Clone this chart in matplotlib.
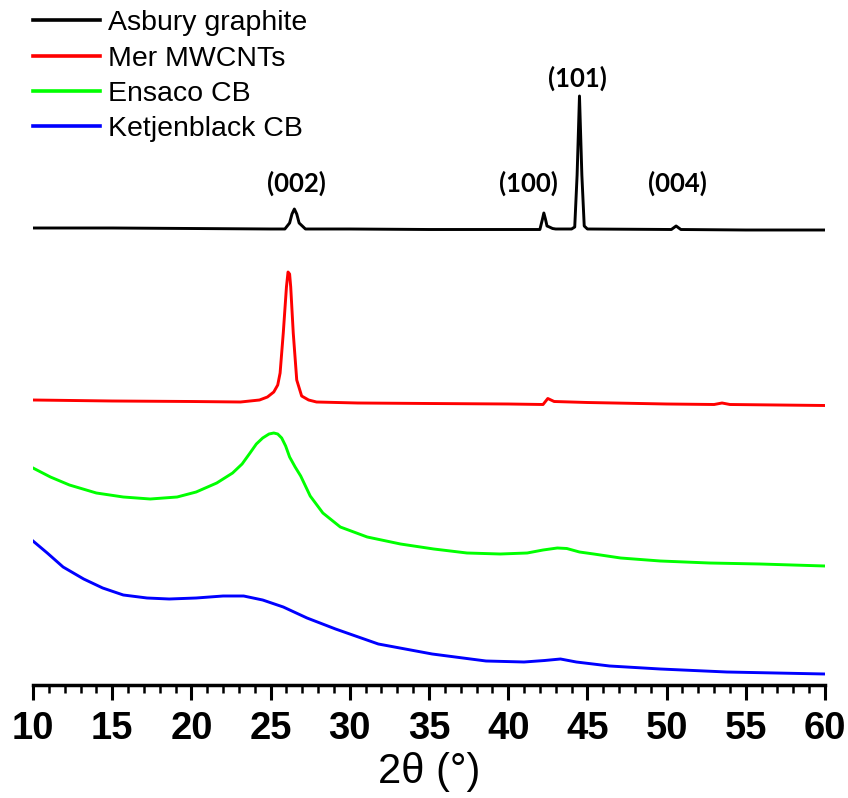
import matplotlib
matplotlib.use("Agg")
import matplotlib.pyplot as plt
from matplotlib.ticker import MultipleLocator
from matplotlib import font_manager

# ---- data (2theta in degrees, intensity in arbitrary offset units) ----
graphite_x = [10, 15, 20, 25, 25.9, 26.2, 26.35, 26.5, 26.65, 26.8, 27.2, 30, 35, 40, 42.0, 42.15, 42.25,
              42.35, 42.45, 42.6, 42.8, 43.0, 44.0, 44.2, 44.35, 44.5, 44.65, 44.8, 45.0,
              50.3, 50.6, 50.9, 55, 60]
graphite_y = [457, 457, 456.5, 456, 456, 462, 471, 476, 471, 462, 456, 456, 455.5, 455.5, 455.5, 465, 472,
              466, 459, 458, 456.5, 456, 456, 458, 510, 589, 510, 459, 456,
              455.5, 459, 455.5, 455, 455]

mwcnt_x = [10, 15, 20, 23.1, 24.3, 24.8, 25.2, 25.45, 25.6, 25.8, 26.0, 26.1, 26.2, 26.27, 26.43, 26.65,
           26.96, 27.4, 27.9, 30.5, 35, 40, 42.2, 42.5, 42.9, 45, 50, 53.0, 53.5, 54.0, 57, 60]
mwcnt_y = [285, 284, 283.5, 283, 285, 288, 293, 300, 312, 352, 398, 413, 411, 398, 352, 305,
           289, 285, 283, 282, 281.5, 281, 280.5, 286.5, 283.5, 282.5, 281, 280.5, 282, 280.5, 280, 279.5]

ensaco_x = [10.0, 11.1, 12.3, 14.0, 15.7, 17.4, 19.1, 20.3, 21.6, 22.6, 23.2, 23.7, 24.1, 24.5, 24.9,
            25.2, 25.45, 25.7, 25.95, 26.2, 26.55, 26.9, 27.5, 28.3, 29.4, 31.1, 33.2, 35.3, 37.4,
            39.5, 41.2, 42.2, 43.1, 43.7, 44.5, 45.4, 47.1, 49.6, 52.7, 55.9, 60.0]
ensaco_y = [217, 208, 200, 192, 188, 186, 188, 193, 202, 212, 221, 232, 241, 247, 251,
            252, 251, 247, 239, 228, 218, 209, 189, 172, 158, 148, 141, 136, 132,
            131, 132, 135, 137, 136.5, 133, 131, 127, 124, 122, 121, 119]

ketjen_x = [10.0, 10.9, 11.9, 13.2, 14.4, 15.7, 17.2, 18.6, 20.3, 22.0, 23.3, 24.5, 25.8, 27.3,
            29.1, 31.8, 35.2, 38.6, 41.0, 42.3, 43.3, 44.3, 46.4, 49.6, 53.8, 60.0]
ketjen_y = [144, 132, 118, 106, 97, 90, 87, 86, 87, 89, 89, 85, 78, 67,
            56, 41, 31, 24, 23, 24.5, 26, 23, 19, 16, 13, 11]

series_labels = ["Asbury graphite", "Mer MWCNTs", "Ensaco CB", "Ketjenblack CB"]
series_colors = ["#000000", "#ff0000", "#00ff00", "#0000ff"]

peak_labels = ["(002)", "(100)", "(101)", "(004)"]
peak_label_x = [26.6, 41.25, 44.35, 50.7]
peak_label_y = [502, 502, 607, 502]

xticks = [10, 15, 20, 25, 30, 35, 40, 45, 50, 55, 60]

# ---- fonts ----
avail = {f.name for f in font_manager.fontManager.ttflist}
bold_lbl = "Lato" if "Lato" in avail else "DejaVu Sans"

W, H = 848, 798
fig = plt.figure(figsize=(W / 100, H / 100), dpi=100)
ax = fig.add_axes([33 / W, (H - 685) / H, (825 - 33) / W, 685 / H])

xs = [graphite_x, mwcnt_x, ensaco_x, ketjen_x]
ys = [graphite_y, mwcnt_y, ensaco_y, ketjen_y]
for x, y, lab, c in zip(xs, ys, series_labels, series_colors):
    ax.plot(x, y, color=c, lw=2.1, label=lab, solid_joinstyle="round")

for t, px, py in zip(peak_labels, peak_label_x, peak_label_y):
    ax.text(px, py, t, ha="center", va="center", fontsize=18.5, fontweight="bold",
            family=[bold_lbl, "DejaVu Sans"])

ax.set_xlim(10, 60)
ax.set_ylim(0, 685)
for s in ["left", "right", "top"]:
    ax.spines[s].set_visible(False)
ax.spines["bottom"].set_linewidth(2.5)
ax.set_yticks([])
ax.set_xticks(xticks)
ax.xaxis.set_minor_locator(MultipleLocator(1))
ax.tick_params(axis="x", which="major", direction="out", length=10.5, width=2.2, pad=8)
ax.tick_params(axis="x", which="minor", direction="out", length=5.5, width=1.8)
for lbl in ax.get_xticklabels():
    lbl.set_fontsize(27.5)
    lbl.set_fontweight("bold")
    lbl.set_family(["Liberation Sans", "DejaVu Sans"])
ax.set_xlabel("2\u03b8 (\u00b0)", fontsize=30, family=["Liberation Sans", "DejaVu Sans"], labelpad=4)

leg = ax.legend(loc="upper left", bbox_to_anchor=(0.0, 0.985), frameon=False,
                prop={"family": ["Liberation Sans", "DejaVu Sans"], "size": 20.5},
                handlelength=2.35, handletextpad=0.27, labelspacing=0.33, borderaxespad=0.0,
                borderpad=0.0)
for l in leg.get_lines():
    l.set_linewidth(2.6)

fig.savefig("out.png", dpi=100)
